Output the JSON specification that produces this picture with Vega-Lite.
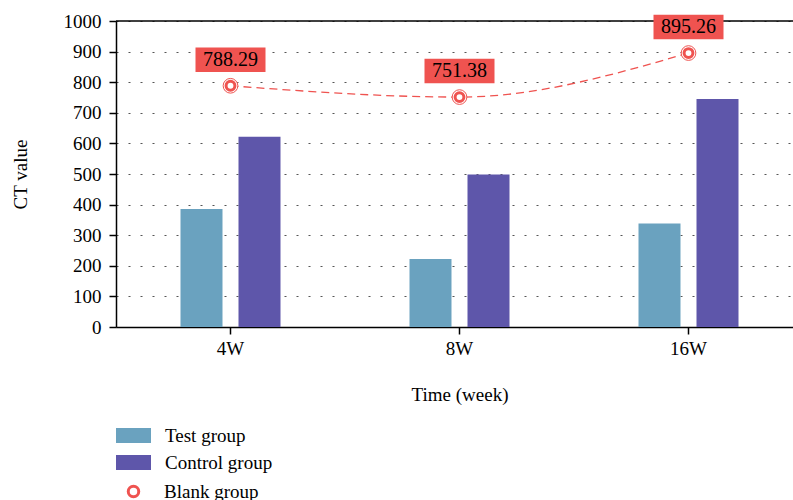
{
  "$schema": "https://vega.github.io/schema/vega-lite/v6.json",
  "autosize": "none",
  "padding": {"left": 116, "top": 21, "right": 0, "bottom": 173},
  "width": 677,
  "height": 306,
  "config": {
    "font": "Liberation Serif",
    "view": {"stroke": null},
    "axis": {
      "domainColor": "#000", "domainWidth": 1.5,
      "tickColor": "#000", "tickWidth": 1.5, "tickSize": 7,
      "labelFont": "Liberation Serif", "labelFontSize": 19, "labelColor": "#000",
      "titleFont": "Liberation Serif", "titleFontSize": 19, "titleFontWeight": "normal", "titleColor": "#000"
    },
    "axisX": {"grid": false, "labelAngle": 0, "labelPadding": 5, "titlePadding": 27},
    "axisY": {"grid": true, "gridDash": [2, 10], "gridColor": "#555", "gridWidth": 1.2, "tickCount": 10, "labelPadding": 8, "titlePadding": 33, "format": "d"}
  },
  "datasets": {
    "bars": [
      {"week": "4W", "group": "Test group", "value": 386},
      {"week": "4W", "group": "Control group", "value": 622},
      {"week": "8W", "group": "Test group", "value": 222},
      {"week": "8W", "group": "Control group", "value": 498},
      {"week": "16W", "group": "Test group", "value": 338},
      {"week": "16W", "group": "Control group", "value": 745}
    ],
    "blank": [
      {"week": "4W", "value": 788.29, "label": "788.29", "series": "Blank group"},
      {"week": "8W", "value": 751.38, "label": "751.38", "series": "Blank group"},
      {"week": "16W", "value": 895.26, "label": "895.26", "series": "Blank group"}
    ],
    "border": [{"value": 1000}]
  },
  "layer": [
    {
      "data": {"name": "bars"},
      "mark": {"type": "bar", "width": 42},
      "encoding": {
        "x": {"field": "week", "type": "nominal", "sort": ["4W", "8W", "16W"], "title": "Time (week)", "scale": {"range": [0, 687], "paddingInner": 0, "paddingOuter": 0}},
        "xOffset": {"field": "group", "type": "nominal", "sort": ["Test group", "Control group"], "scale": {"paddingInner": 0.052, "paddingOuter": 1}},
        "y": {"field": "value", "type": "quantitative", "title": "CT value", "scale": {"domain": [0, 1000], "nice": false}},
        "fill": {
          "field": "group", "type": "nominal",
          "scale": {"domain": ["Test group", "Control group"], "range": ["#6aa2bf", "#5e56aa"]},
          "legend": {
            "orient": "none", "legendX": 5, "legendY": 402, "title": null,
            "symbolType": "M-1.4,-0.6L1.4,-0.6L1.4,0.6L-1.4,0.6Z", "symbolSize": 625,
            "symbolStrokeWidth": 0, "labelFontSize": 19, "labelOffset": 19, "rowPadding": 4,
            "padding": 0, "labelColor": "#000", "labelFont": "Liberation Serif"
          }
        }
      }
    },
    {
      "data": {"name": "border"},
      "mark": {"type": "rule", "color": "#000", "strokeWidth": 1.5},
      "encoding": {
        "y": {"field": "value", "type": "quantitative", "title": "CT value"}
      }
    },
    {
      "data": {"name": "blank"},
      "mark": {"type": "line", "interpolate": "monotone", "stroke": "#ef5350", "strokeWidth": 1.3, "strokeDash": [8, 5]},
      "encoding": {
        "x": {"field": "week", "type": "nominal", "sort": ["4W", "8W", "16W"], "title": "Time (week)"},
        "y": {"field": "value", "type": "quantitative", "title": "CT value"}
      }
    },
    {
      "data": {"name": "blank"},
      "mark": {"type": "point", "shape": "circle", "filled": false, "fill": "#fff", "fillOpacity": 1, "stroke": "#ef5350", "strokeWidth": 1, "size": 216, "opacity": 1},
      "encoding": {
        "x": {"field": "week", "type": "nominal", "sort": ["4W", "8W", "16W"], "title": "Time (week)"},
        "y": {"field": "value", "type": "quantitative", "title": "CT value"}
      }
    },
    {
      "data": {"name": "blank"},
      "mark": {"type": "point", "shape": "circle", "filled": false, "fill": "#fff", "fillOpacity": 1, "strokeWidth": 3, "size": 78, "opacity": 1},
      "encoding": {
        "x": {"field": "week", "type": "nominal", "sort": ["4W", "8W", "16W"], "title": "Time (week)"},
        "y": {"field": "value", "type": "quantitative", "title": "CT value"},
        "stroke": {
          "field": "series", "type": "nominal",
          "scale": {"domain": ["Blank group"], "range": ["#ef5350"]},
          "legend": {
            "orient": "none", "legendX": 8, "legendY": 461, "title": null,
            "symbolType": "circle", "symbolSize": 110, "symbolStrokeWidth": 3, "symbolFillColor": "#fff",
            "labelFontSize": 19, "labelOffset": 21, "padding": 0, "labelColor": "#000", "labelFont": "Liberation Serif"
          }
        }
      }
    },
    {
      "data": {"name": "blank"},
      "mark": {"type": "point", "shape": "M-1,-0.35L1,-0.35L1,0.35L-1,0.35Z", "filled": true, "fill": "#ef5350", "fillOpacity": 1, "opacity": 1, "strokeWidth": 0, "size": 4900, "yOffset": -26},
      "encoding": {
        "x": {"field": "week", "type": "nominal", "sort": ["4W", "8W", "16W"], "title": "Time (week)"},
        "y": {"field": "value", "type": "quantitative", "title": "CT value"}
      }
    },
    {
      "data": {"name": "blank"},
      "mark": {"type": "text", "fontSize": 20, "font": "Liberation Serif", "color": "#000", "baseline": "middle", "align": "center", "yOffset": -26},
      "encoding": {
        "x": {"field": "week", "type": "nominal", "sort": ["4W", "8W", "16W"], "title": "Time (week)"},
        "y": {"field": "value", "type": "quantitative", "title": "CT value"},
        "text": {"field": "label", "type": "nominal"}
      }
    }
  ]
}
